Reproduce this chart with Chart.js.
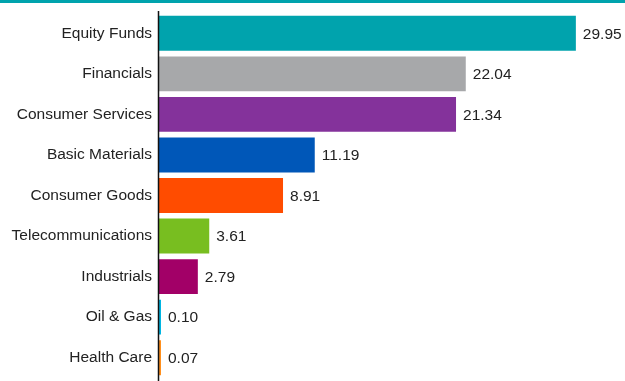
<!DOCTYPE html>
<html>
<head>
<meta charset="utf-8">
<script src="https://cdn.jsdelivr.net/npm/chart.js@4.4.1/dist/chart.umd.min.js"></script>
<style>
  html, body { margin: 0; padding: 0; background: #fff; }
  #wrap { width: 625px; height: 381px; position: relative; }
</style>
</head>
<body>
<div id="wrap"><canvas id="myChart" width="625" height="381"></canvas></div>
<script>
var sectors = ["Equity Funds", "Financials", "Consumer Services", "Basic Materials", "Consumer Goods",
               "Telecommunications", "Industrials", "Oil & Gas", "Health Care"];
var weights = [29.95, 22.04, 21.34, 11.19, 8.91, 3.61, 2.79, 0.10, 0.07];
var barColors = ["#00A3AD", "#A7A8AA", "#84329B", "#0057B8", "#FF4C00",
                 "#78BE20", "#A20067", "#00B5E2", "#FF8F1C"];

var fontFam = "'Liberation Sans', Arial, sans-serif";

// value labels, top rule and the axis line
var extras = {
    id: "extras",
    afterDatasetsDraw: function(chart) {
        var ctx = chart.ctx;
        var meta = chart.getDatasetMeta(0);
        ctx.save();
        ctx.font = "15.5px " + fontFam;
        ctx.fillStyle = "#222";
        ctx.textAlign = "left";
        ctx.textBaseline = "middle";
        meta.data.forEach(function(bar, i) {
            ctx.fillText(weights[i].toFixed(2), Math.max(bar.x, bar.base + 2) + 7, bar.y + 1);
        });

        ctx.fillStyle = "#00A3AD";
        ctx.fillRect(0, 0, chart.width, 3);

        var left = Math.round(chart.chartArea.left) - 0.5;
        ctx.strokeStyle = "#111";
        ctx.lineWidth = 1.5;
        ctx.beginPath();
        ctx.moveTo(left, 11);
        ctx.lineTo(left, chart.height);
        ctx.stroke();
        ctx.restore();
    }
};

var ctx = document.getElementById("myChart");
var chart = new Chart(ctx, {
    type: "bar",
    data: {
        labels: sectors,
        datasets: [{
            data: weights,
            backgroundColor: barColors,
            borderWidth: 0,
            minBarLength: 2,
            barPercentage: 0.86,
            categoryPercentage: 1
        }]
    },
    options: {
        indexAxis: "y",
        responsive: false,
        animation: false,
        layout: { padding: { top: 13, bottom: 3, left: 0, right: 0 } },
        plugins: {
            legend: { display: false },
            tooltip: { enabled: false }
        },
        scales: {
            x: {
                display: false,
                min: 0,
                max: 33.48
            },
            y: {
                grid: { display: false, drawTicks: false },
                border: { display: false },
                afterFit: function(scale) {
                    scale.width = 159;
                    scale.paddingTop = 0;
                    scale.paddingBottom = 0;
                },
                ticks: {
                    padding: 7,
                    color: "#222",
                    font: { family: fontFam, size: 15.5 }
                }
            }
        }
    },
    plugins: [extras]
});
</script>
</body>
</html>
